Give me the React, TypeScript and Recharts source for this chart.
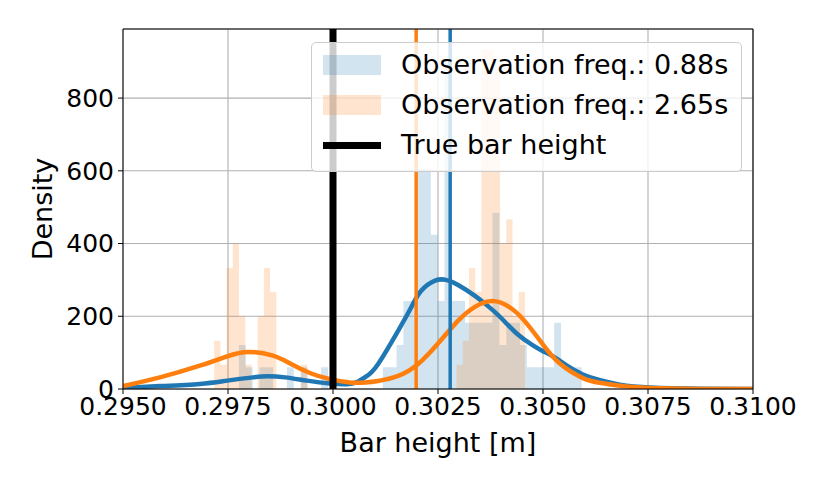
import React from "react";
import {
  ComposedChart,
  Area,
  Line,
  XAxis,
  YAxis,
  CartesianGrid,
  ReferenceLine,
} from "recharts";

const BLUE = "#1f77b4";
const ORANGE = "#ff7f0e";
const FONT = "DejaVu Sans, sans-serif";

const X_TICKS = [0.295, 0.2975, 0.3, 0.3025, 0.305, 0.3075, 0.31];
const Y_TICKS = [0, 200, 400, 600, 800];
const Y_TOP = 990;

const TRUE_HEIGHT = 0.3;
const BLUE_MEAN = 0.30279;
const ORANGE_MEAN = 0.30198;

// density histograms, 50 equal bins between the range edges
const BLUE_HIST_RANGE = [0.29776, 0.30592];
const BLUE_HIST = [
  121, 60, 0, 60, 60, 0, 0, 60, 0, 60, 0, 0, 60, 0, 0, 0, 0, 0, 0, 0, 0, 60, 60,
  121, 242, 242, 605, 605, 424, 242, 907, 242, 242, 182, 182, 182, 182, 484, 121,
  182, 182, 121, 60, 60, 60, 60, 182, 60, 60, 60,
];

const ORANGE_HIST_RANGE = [0.29717, 0.30457];
const ORANGE_HIST = [
  133, 67, 333, 400, 200, 67, 0, 200, 333, 267, 0, 0, 0, 0, 67, 0, 0, 0, 0, 0, 0,
  0, 0, 0, 0, 0, 0, 0, 0, 0, 0, 0, 0, 0, 0, 0, 0, 0, 0, 67, 133, 333, 267, 933,
  933, 867, 400, 467, 200, 267,
];

// kernel density estimates
const BLUE_KDE_X = [
  0.295, 0.29588, 0.29683, 0.29748, 0.2981, 0.29845, 0.29886, 0.29938, 0.29993,
  0.30033, 0.30057, 0.30081, 0.30107, 0.30155, 0.30186, 0.3021, 0.30243, 0.30269,
  0.30298, 0.30338, 0.30367, 0.30398, 0.30438, 0.30476, 0.305, 0.30529, 0.30557,
  0.30595, 0.30636, 0.30683, 0.30755, 0.30874, 0.31,
];
const BLUE_KDE_Y = [
  3, 8, 14, 23, 32, 35, 32, 23, 15, 13, 19, 36, 68, 160, 224, 270, 298, 300, 286,
  256, 230, 198, 152, 120, 104, 86, 64, 40, 24, 12, 4, 0.5, 0,
];

const ORANGE_KDE_X = [
  0.295, 0.29588, 0.29683, 0.29748, 0.29798, 0.29857, 0.29898, 0.29945, 0.29993,
  0.3004, 0.30076, 0.30107, 0.30155, 0.30202, 0.3025, 0.30298, 0.30338, 0.30379,
  0.30419, 0.30457, 0.305, 0.3054, 0.30595, 0.30636, 0.30683, 0.30755, 0.30874,
  0.31,
];
const ORANGE_KDE_Y = [
  8, 32, 64, 90, 102, 92, 70, 44, 27, 18, 18, 22, 36, 68, 125, 188, 226, 242, 226,
  186, 122, 70, 30, 17, 9, 3, 0.3, 0,
];

function toSteps(range: number[], heights: number[]) {
  const w = (range[1] - range[0]) / heights.length;
  const pts = heights.map((h, i) => ({ x: range[0] + i * w, h }));
  pts.push({ x: range[1], h: 0 });
  return pts;
}

const blueSteps = toSteps(BLUE_HIST_RANGE, BLUE_HIST);
const orangeSteps = toSteps(ORANGE_HIST_RANGE, ORANGE_HIST);
const blueKde = BLUE_KDE_X.map((x, i) => ({ x, y: BLUE_KDE_Y[i] }));
const orangeKde = ORANGE_KDE_X.map((x, i) => ({ x, y: ORANGE_KDE_Y[i] }));

const tickStyle = { fill: "#000", fontSize: 25, fontFamily: FONT };

function LegendBox() {
  const rows = [
    { label: "Observation freq.: 0.88s", kind: "patch", color: "rgba(31,119,180,0.2)" },
    { label: "Observation freq.: 2.65s", kind: "patch", color: "rgba(255,127,14,0.2)" },
    { label: "True bar height", kind: "line", color: "#000" },
  ];
  return (
    <div
      style={{
        position: "absolute",
        left: 311,
        top: 42,
        width: 431,
        height: 130,
        boxSizing: "border-box",
        background: "rgba(255,255,255,0.8)",
        border: "1px solid #cccccc",
        borderRadius: 5,
        fontFamily: FONT,
        fontSize: 27,
        color: "#000",
      }}
    >
      {rows.map((r, i) => {
        const cy = 22 + i * 40;
        return (
          <React.Fragment key={r.label}>
            <div
              style={{
                position: "absolute",
                left: 11,
                top: r.kind === "patch" ? cy - 10 : cy - 3.5,
                width: 58,
                height: r.kind === "patch" ? 20 : 7,
                background: r.color,
              }}
            />
            <div
              style={{
                position: "absolute",
                left: 89,
                top: cy - 17,
                height: 34,
                lineHeight: "34px",
                whiteSpace: "nowrap",
              }}
            >
              {r.label}
            </div>
          </React.Fragment>
        );
      })}
    </div>
  );
}

export default function App() {
  return (
    <div
      style={{
        position: "absolute",
        left: 0,
        top: 0,
        width: 830,
        height: 489,
        background: "#fff",
      }}
    >
      <ComposedChart
        width={830}
        height={489}
        margin={{ top: 29, right: 77, bottom: 0, left: 0 }}
      >
        <CartesianGrid stroke="#b0b0b0" strokeWidth={1.1} />
        <XAxis
          type="number"
          dataKey="x"
          domain={[0.295, 0.31]}
          ticks={X_TICKS}
          interval={0}
          allowDataOverflow
          tickFormatter={(v: number) => v.toFixed(4)}
          height={100}
          tickSize={5}
          tickMargin={3}
          stroke="#000"
          tick={tickStyle}
          label={{
            content: (props: any) => {
              const vb = props.viewBox;
              return (
                <text
                  x={vb.x + vb.width / 2}
                  y={vb.y + 63}
                  textAnchor="middle"
                  fontSize={27}
                  fontFamily={FONT}
                  fill="#000"
                >
                  Bar height [m]
                </text>
              );
            },
          }}
        />
        <YAxis
          type="number"
          domain={[0, Y_TOP]}
          ticks={Y_TICKS}
          interval={0}
          allowDataOverflow
          width={123}
          tickSize={5}
          tickMargin={4}
          stroke="#000"
          tick={tickStyle}
          label={{
            content: (props: any) => {
              const vb = props.viewBox;
              const cx = 42;
              const cy = vb.y + vb.height / 2;
              return (
                <text
                  x={cx}
                  y={cy}
                  transform={`rotate(-90 ${cx} ${cy})`}
                  textAnchor="middle"
                  dominantBaseline="central"
                  fontSize={27}
                  fontFamily={FONT}
                  fill="#000"
                >
                  Density
                </text>
              );
            },
          }}
        />
        <Area
          data={blueSteps}
          dataKey="h"
          type="stepAfter"
          stroke="none"
          fill={BLUE}
          fillOpacity={0.2}
          isAnimationActive={false}
        />
        <Area
          data={orangeSteps}
          dataKey="h"
          type="stepAfter"
          stroke="none"
          fill={ORANGE}
          fillOpacity={0.2}
          isAnimationActive={false}
        />
        <Line
          data={blueKde}
          dataKey="y"
          type="natural"
          stroke={BLUE}
          strokeWidth={4.5}
          dot={false}
          activeDot={false}
          isAnimationActive={false}
        />
        <Line
          data={orangeKde}
          dataKey="y"
          type="natural"
          stroke={ORANGE}
          strokeWidth={4.5}
          dot={false}
          activeDot={false}
          isAnimationActive={false}
        />
        <ReferenceLine x={ORANGE_MEAN} stroke={ORANGE} strokeWidth={3.5} />
        <ReferenceLine x={BLUE_MEAN} stroke={BLUE} strokeWidth={3.5} />
        <ReferenceLine x={TRUE_HEIGHT} stroke="#000" strokeWidth={7} />
        <ReferenceLine y={Y_TOP} stroke="#000" strokeWidth={1.1} />
        <ReferenceLine x={0.31} stroke="#000" strokeWidth={1.1} />
      </ComposedChart>
      <LegendBox />
    </div>
  );
}
